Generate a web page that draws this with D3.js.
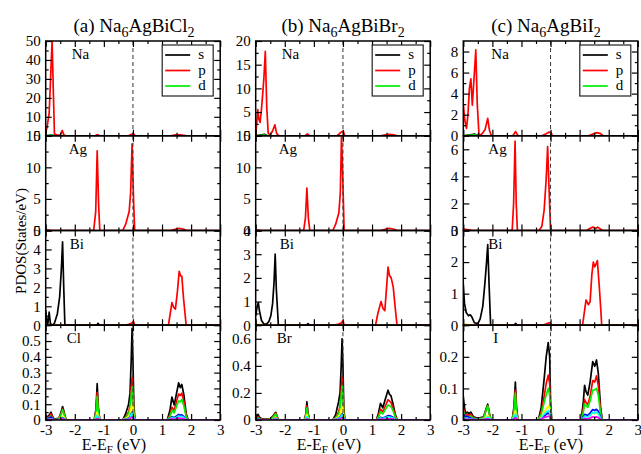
<!DOCTYPE html>
<html><head><meta charset="utf-8">
<script src="https://cdn.jsdelivr.net/npm/d3@7"></script>
<style>
body{margin:0;background:#fff}
svg{display:block}
text{font-family:"Liberation Serif","Times New Roman",serif}
</style>
</head><body>
<svg id="chart" width="641" height="454"></svg>
<script>
// ---------------- DATA ----------------
const xTickValues = [-3,-2,-1,0,1,2,3];
const xMinorValues = [-2.5,-1.5,-0.5,0.5,1.5,2.5];
const titleParts = [["(a) Na","6","AgBiCl","2"],["(b) Na","6","AgBiBr","2"],["(c) Na","6","AgBiI","2"]];
const colElements = [["Na","Ag","Bi","Cl"],["Na","Ag","Bi","Br"],["Na","Ag","Bi","I"]];
const legendLabels = ["s","p","d"];
const yMax = [[50,15,5,0.6],[20,15,4,0.7],[9,7,3,0.3]];
const yMajor = [
  [[0,10,20,30,40,50],[0,5,10,15],[0,1,2,3,4,5],[0,0.1,0.2,0.3,0.4,0.5]],
  [[0,5,10,15,20],[0,5,10,15],[0,1,2,3,4],[0,0.2,0.4,0.6]],
  [[0,2,4,6,8],[0,2,4,6],[0,1,2,3],[0,0.1,0.2]]
];
const yMinor = [
  [[5,15,25,35,45],[2.5,7.5,12.5],[0.5,1.5,2.5,3.5,4.5],[0.05,0.15,0.25,0.35,0.45,0.55]],
  [[2.5,7.5,12.5,17.5],[2.5,7.5,12.5],[0.5,1.5,2.5,3.5],[0.1,0.3,0.5]],
  [[1,3,5,7],[1,3,5],[0.5,1.5,2.5],[0.05,0.15,0.25]]
];

// cation PDOS curves: [E, PDOS]
const naA_s = [[-3,0],[-2.8,0.4],[-2.7,0],[3,0]];
const naA_p = [[-3,1],[-2.95,5],[-2.88,12],[-2.82,35],[-2.78,50],[-2.74,25],[-2.7,1],[-2.6,0.3],[-2.5,0.5],[-2.43,2.8],[-2.38,0.5],[-2.3,0],[-1.3,0],[-1.22,0.6],[-1.15,0],[-0.15,0],[-0.05,0.8],[0.02,1],[0.08,0],[1.3,0],[1.5,0.6],[1.7,0.4],[1.85,0],[3,0]];
const naA_d = [[-3,0],[-2.8,0.2],[-2.7,0],[3,0]];
const agA_p = [[-3,0.1],[-2.9,0.05],[-2.8,0],[-1.35,0],[-1.28,3],[-1.23,12.6],[-1.18,4],[-1.14,0],[-0.35,0],[-0.25,1],[-0.13,3],[-0.08,6],[-0.03,13.7],[0.02,5],[0.06,0],[1.3,0],[1.45,0.2],[1.6,0.35],[1.75,0.2],[1.85,0],[3,0]];
const biA_s = [[-3,0.8],[-2.96,0.2],[-2.93,0.05],[-2.88,0.7],[-2.84,0.1],[-2.78,0],[-2.7,0.1],[-2.6,0.6],[-2.52,1.5],[-2.46,3],[-2.42,4.4],[-2.38,2],[-2.34,0],[-1.25,0],[-1.2,0.1],[-1.15,0],[3,0]];
const biA_p = [[-3,0],[-0.3,0],[-0.15,0.05],[-0.05,0.1],[0.02,0.2],[0.06,0],[1.22,0],[1.28,0.6],[1.34,1.2],[1.4,0.95],[1.46,0.85],[1.53,1.8],[1.59,2.85],[1.64,2.6],[1.68,2.6],[1.74,1.4],[1.83,0],[3,0]];
const biA_d = [[-3,0.06],[-2.85,0.03],[-2.7,0],[3,0]];

const naB_s = [[-3,0],[-2.7,0.3],[-2.6,0],[3,0]];
const naB_p = [[-3,0],[-2.96,3],[-2.93,5.5],[-2.89,3.5],[-2.85,2.8],[-2.81,5],[-2.77,8],[-2.72,12],[-2.67,17.8],[-2.62,6],[-2.57,0.5],[-2.5,0.2],[-2.42,1],[-2.34,2.3],[-2.28,0.5],[-2.2,0],[-1.3,0],[-1.22,0.4],[-1.15,0],[-0.2,0],[-0.05,0.8],[0.01,1.0],[0.06,0],[1.3,0],[1.45,0.2],[1.6,0.3],[1.75,0.2],[1.85,0],[3,0]];
const naB_d = [[-3,0],[-2.7,0.15],[-2.6,0],[3,0]];
const agB_p = [[-3,0.1],[-2.9,0.05],[-2.8,0],[-1.35,0],[-1.29,2],[-1.24,6.7],[-1.19,2],[-1.14,0],[-0.35,0],[-0.25,1],[-0.14,2.8],[-0.09,6],[-0.05,15],[-0.01,9],[0.04,0],[1.3,0],[1.45,0.2],[1.6,0.35],[1.75,0.2],[1.85,0],[3,0]];
const biB_s = [[-3,0.4],[-2.95,0.8],[-2.91,0.95],[-2.87,0.6],[-2.8,0.2],[-2.72,0.05],[-2.63,0.05],[-2.55,0.15],[-2.48,0.4],[-2.42,0.9],[-2.37,1.8],[-2.33,3.0],[-2.29,1.5],[-2.22,0],[-1.25,0],[-1.2,0.07],[-1.15,0],[3,0]];
const biB_p = [[-3,0],[-0.3,0],[-0.15,0.05],[-0.05,0.1],[0.0,0.2],[0.04,0],[1.12,0],[1.2,0.5],[1.31,1.0],[1.38,0.7],[1.44,0.62],[1.5,1.6],[1.55,2.45],[1.6,2.1],[1.66,2.0],[1.73,1.6],[1.8,0.7],[1.86,0],[3,0]];
const biB_d = [[-3,0.05],[-2.85,0.03],[-2.7,0],[3,0]];

const naC_s = [[-3,0],[-2.6,0.15],[-2.5,0],[3,0]];
const naC_p = [[-3,3],[-2.95,1.5],[-2.89,0.7],[-2.84,2],[-2.79,4.5],[-2.74,5.4],[-2.69,2.9],[-2.63,5.5],[-2.57,8.15],[-2.52,3],[-2.46,0.1],[-2.38,0.1],[-2.25,0.6],[-2.16,1.65],[-2.1,0.5],[-2.03,0],[-1.3,0],[-1.2,0.4],[-1.12,0],[-0.3,0],[-0.15,0.2],[-0.05,0.35],[0.02,0.3],[0.06,0],[1.3,0],[1.45,0.15],[1.6,0.3],[1.72,0.2],[1.8,0],[3,0]];
const naC_d = [[-3,0],[-2.6,0.08],[-2.5,0],[3,0]];
const agC_p = [[-3,0.1],[-2.8,0.05],[-2.7,0],[-1.32,0],[-1.27,2],[-1.22,6.6],[-1.18,2],[-1.14,0],[-0.4,0],[-0.3,0.3],[-0.22,1.5],[-0.15,3.8],[-0.1,6.2],[-0.05,3],[0.0,0],[1.25,0],[1.35,0.15],[1.45,0.25],[1.55,0.15],[1.62,0.25],[1.72,0.1],[1.8,0],[3,0]];
const biC_s = [[-3,1.3],[-2.96,0.7],[-2.9,0.4],[-2.82,0.3],[-2.76,0.33],[-2.7,0.25],[-2.62,0.08],[-2.5,0.05],[-2.42,0.2],[-2.33,0.6],[-2.26,1.3],[-2.2,2.0],[-2.16,2.55],[-2.11,1.2],[-2.06,0],[-1.25,0],[-1.2,0.06],[-1.15,0],[3,0]];
const biC_p = [[-3,0],[-0.3,0],[-0.15,0.04],[-0.05,0.08],[0.0,0.06],[0.04,0],[1.1,0],[1.16,0.4],[1.22,0.8],[1.3,0.65],[1.36,0.75],[1.42,1.6],[1.47,2.0],[1.52,1.85],[1.57,1.95],[1.61,2.05],[1.67,1.3],[1.72,0.6],[1.76,0],[3,0]];
const biC_d = [[-3,0.04],[-2.85,0.02],[-2.7,0],[3,0]];

// anion PDOS: energies and several orbital components
const clX = [-3,-2.95,-2.88,-2.82,-2.76,-2.7,-2.55,-2.47,-2.42,-2.38,-2.33,-2.28,-1.33,-1.27,-1.23,-1.19,-1.14,-0.35,-0.25,-0.15,-0.1,-0.06,-0.03,0.0,0.03,0.07,1.18,1.27,1.34,1.42,1.5,1.57,1.63,1.68,1.75,1.83,1.9,3];
const clBlack = [0.01,0.02,0.03,0.05,0.02,0.005,0.01,0.05,0.085,0.06,0.02,0, 0,0.07,0.23,0.08,0, 0,0.04,0.1,0.17,0.38,0.58,0.38,0.1,0, 0,0.06,0.145,0.095,0.17,0.235,0.205,0.225,0.16,0.04,0,0];
const clRed = [0.005,0.015,0.02,0.04,0.015,0.003,0.008,0.04,0.07,0.05,0.015,0, 0,0.05,0.175,0.06,0, 0,0.02,0.05,0.09,0.2,0.27,0.2,0.05,0, 0,0.03,0.08,0.06,0.12,0.165,0.155,0.17,0.12,0.03,0,0];
const clGreen = [0.003,0.01,0.015,0.025,0.01,0.002,0.006,0.035,0.065,0.045,0.012,0, 0,0.04,0.15,0.05,0, 0,0.015,0.04,0.07,0.16,0.21,0.15,0.04,0, 0,0.02,0.06,0.045,0.09,0.12,0.115,0.13,0.09,0.02,0,0];
const clYellow = [0.002,0.005,0.008,0.01,0.005,0.001,0.003,0.015,0.025,0.02,0.005,0, 0,0.015,0.05,0.02,0, 0,0.01,0.02,0.04,0.08,0.1,0.07,0.02,0, 0,0.01,0.02,0.015,0.025,0.03,0.03,0.03,0.02,0.005,0,0];
const clBlue = [0.002,0.008,0.012,0.02,0.008,0.001,0.002,0.008,0.015,0.01,0.003,0, 0,0.008,0.025,0.01,0, 0,0.005,0.01,0.02,0.04,0.05,0.035,0.01,0, 0,0.008,0.02,0.015,0.025,0.035,0.03,0.032,0.022,0.005,0,0];
const clCyan = [0.001,0.003,0.005,0.008,0.004,0.001,0.002,0.006,0.012,0.008,0.002,0, 0,0.006,0.03,0.008,0, 0,0.004,0.008,0.015,0.035,0.045,0.03,0.008,0, 0,0.006,0.015,0.01,0.018,0.025,0.022,0.024,0.016,0.004,0,0];
const clMagenta = [0.001,0.002,0.003,0.005,0.002,0,0.001,0.004,0.008,0.005,0.001,0, 0,0.003,0.01,0.004,0, 0,0.002,0.004,0.008,0.015,0.02,0.014,0.004,0, 0,0.003,0.008,0.005,0.008,0.012,0.01,0.011,0.008,0.002,0,0];

const brX = [-3,-2.95,-2.92,-2.87,-2.8,-2.7,-2.5,-2.4,-2.34,-2.31,-2.27,-2.22,-1.33,-1.28,-1.24,-1.2,-1.15,-0.35,-0.25,-0.15,-0.1,-0.06,-0.03,0.0,0.03,0.07,1.15,1.22,1.29,1.37,1.45,1.55,1.6,1.65,1.72,1.8,1.87,3];
const brBlack = [0.01,0.025,0.042,0.02,0.01,0.005,0.01,0.03,0.05,0.057,0.03,0, 0,0.04,0.135,0.05,0, 0,0.04,0.135,0.2,0.4,0.6,0.4,0.08,0, 0,0.05,0.123,0.09,0.15,0.22,0.19,0.18,0.12,0.04,0,0];
const brRed = [0.005,0.015,0.025,0.012,0.006,0.003,0.008,0.025,0.045,0.05,0.025,0, 0,0.03,0.105,0.04,0, 0,0.02,0.06,0.1,0.22,0.32,0.22,0.04,0, 0,0.03,0.08,0.06,0.1,0.15,0.14,0.13,0.09,0.03,0,0];
const brGreen = [0.003,0.01,0.015,0.008,0.004,0.002,0.006,0.02,0.04,0.045,0.02,0, 0,0.025,0.09,0.035,0, 0,0.015,0.045,0.08,0.18,0.25,0.17,0.03,0, 0,0.02,0.06,0.045,0.075,0.11,0.105,0.1,0.07,0.02,0,0];
const brYellow = [0.002,0.005,0.008,0.004,0.002,0.001,0.003,0.008,0.015,0.018,0.008,0, 0,0.01,0.04,0.015,0, 0,0.008,0.025,0.04,0.08,0.1,0.07,0.015,0, 0,0.008,0.02,0.015,0.02,0.03,0.028,0.025,0.018,0.005,0,0];
const brBlue = [0.002,0.006,0.01,0.005,0.003,0.001,0.002,0.005,0.01,0.012,0.005,0, 0,0.006,0.02,0.008,0, 0,0.005,0.012,0.02,0.035,0.045,0.03,0.008,0, 0,0.008,0.02,0.015,0.022,0.032,0.03,0.028,0.02,0.005,0,0];
const brCyan = [0.001,0.003,0.005,0.003,0.002,0.001,0.002,0.004,0.008,0.01,0.004,0, 0,0.005,0.025,0.006,0, 0,0.004,0.01,0.016,0.03,0.04,0.025,0.006,0, 0,0.006,0.015,0.01,0.016,0.024,0.022,0.02,0.015,0.004,0,0];
const brMagenta = [0.001,0.002,0.003,0.002,0.001,0,0.001,0.002,0.004,0.005,0.002,0, 0,0.002,0.008,0.003,0, 0,0.002,0.005,0.008,0.014,0.018,0.012,0.003,0, 0,0.003,0.007,0.005,0.007,0.01,0.009,0.008,0.006,0.002,0,0];

const iX = [-3,-2.96,-2.92,-2.86,-2.8,-2.74,-2.65,-2.5,-2.3,-2.22,-2.16,-2.1,-2.05,-1.32,-1.26,-1.21,-1.17,-1.12,-0.42,-0.32,-0.22,-0.15,-0.08,-0.03,0.0,0.04,1.05,1.12,1.17,1.22,1.28,1.36,1.45,1.52,1.58,1.64,1.72,1.78,3];
const iBlack = [0.074,0.04,0.02,0.025,0.02,0.025,0.01,0.005,0.01,0.035,0.05,0.02,0, 0,0.04,0.12,0.04,0, 0,0.04,0.13,0.2,0.245,0.2,0.06,0, 0,0.05,0.11,0.09,0.079,0.12,0.185,0.17,0.19,0.15,0.04,0,0];
const iRed = [0.04,0.02,0.012,0.018,0.015,0.018,0.007,0.004,0.008,0.03,0.045,0.018,0, 0,0.03,0.095,0.03,0, 0,0.025,0.075,0.115,0.142,0.115,0.035,0, 0,0.03,0.065,0.055,0.048,0.075,0.125,0.12,0.14,0.11,0.03,0,0];
const iGreen = [0.03,0.015,0.008,0.012,0.01,0.012,0.005,0.003,0.007,0.03,0.045,0.018,0, 0,0.025,0.085,0.025,0, 0,0.018,0.055,0.08,0.1,0.08,0.025,0, 0,0.022,0.05,0.045,0.04,0.06,0.095,0.095,0.1,0.08,0.02,0,0];
const iYellow = [0.012,0.008,0.005,0.006,0.005,0.005,0.003,0.002,0.003,0.01,0.015,0.006,0, 0,0.01,0.03,0.01,0, 0,0.008,0.025,0.035,0.045,0.035,0.01,0, 0,0.006,0.015,0.012,0.01,0.015,0.022,0.02,0.022,0.018,0.005,0,0];
const iBlue = [0.02,0.012,0.01,0.012,0.008,0.006,0.003,0.001,0.002,0.005,0.008,0.003,0, 0,0.005,0.015,0.005,0, 0,0.005,0.012,0.018,0.022,0.018,0.005,0, 0,0.008,0.018,0.016,0.015,0.022,0.033,0.03,0.034,0.028,0.008,0,0];
const iCyan = [0.01,0.006,0.004,0.005,0.004,0.004,0.002,0.001,0.002,0.006,0.01,0.004,0, 0,0.008,0.02,0.006,0, 0,0.006,0.018,0.025,0.03,0.024,0.007,0, 0,0.005,0.012,0.01,0.01,0.015,0.024,0.022,0.025,0.02,0.005,0,0];
const iMagenta = [0.005,0.003,0.002,0.002,0.002,0.002,0.001,0,0.001,0.003,0.004,0.002,0, 0,0.003,0.008,0.003,0, 0,0.003,0.008,0.01,0.012,0.01,0.003,0, 0,0.002,0.005,0.004,0.004,0.006,0.01,0.009,0.01,0.008,0.002,0,0];

// ---------------- LAYOUT / STYLE ----------------
const C_S = "#000000", C_P = "#ff0000", C_D = "#00ee00";
const anionColors = ["#000000","#ff0000","#00ee00","#ffff00","#0000ff","#00ffff","#ff00ff"];
const zipXY = (xs, ys) => xs.map((x,i)=>[x, ys[i]]);

const panelSeries = [
  [
    [{d:naA_s,c:C_S},{d:naA_d,c:C_D},{d:naA_p,c:C_P}],
    [{d:agA_p,c:C_P}],
    [{d:biA_d,c:"#e0e000"},{d:biA_p,c:C_P},{d:biA_s,c:C_S}],
    [clBlack,clRed,clGreen,clYellow,clBlue,clCyan,clMagenta].map((ys,i)=>({d:zipXY(clX,ys),c:anionColors[i]}))
  ],
  [
    [{d:naB_s,c:C_S},{d:naB_d,c:C_D},{d:naB_p,c:C_P}],
    [{d:agB_p,c:C_P}],
    [{d:biB_d,c:"#e0e000"},{d:biB_p,c:C_P},{d:biB_s,c:C_S}],
    [brBlack,brRed,brGreen,brYellow,brBlue,brCyan,brMagenta].map((ys,i)=>({d:zipXY(brX,ys),c:anionColors[i]}))
  ],
  [
    [{d:naC_s,c:C_S},{d:naC_d,c:C_D},{d:naC_p,c:C_P}],
    [{d:agC_p,c:C_P}],
    [{d:biC_d,c:"#e0e000"},{d:biC_p,c:C_P},{d:biC_s,c:C_S}],
    [iBlack,iRed,iGreen,iYellow,iBlue,iCyan,iMagenta].map((ys,i)=>({d:zipXY(iX,ys),c:anionColors[i]}))
  ]
];

const colLeft = [45.7, 255.7, 463.3];
const colW = 174.5;
const rowTop = [41, 135.75, 230.5, 325.25];
const rowH = 94.75;
const labelDx = [[26,23,24,21],[26,23,24,21],[28,25,25,30]];
const titleCx = [134, 343, 546];
const xTitleCx = [114, 329, 551];

const svg = d3.select("#chart");
const FONT = '"Liberation Serif","Times New Roman",serif';
const fmt = d => String(d);

function styleAxis(g, size){
  g.select(".domain").remove();
  g.selectAll(".tick line").attr("stroke","#000").attr("stroke-width",1.2);
  g.attr("font-family",FONT).attr("font-size",size).selectAll("text").attr("fill","#000");
}

for (let c=0;c<3;c++){
  const L = colLeft[c];
  const x = d3.scaleLinear().domain([-3,3]).range([L, L+colW]);

  // title
  const tp = titleParts[c];
  const t = svg.append("text").attr("x",titleCx[c]).attr("y",32).attr("text-anchor","middle")
    .attr("font-size",19).attr("fill","#000");
  t.append("tspan").text(tp[0]);
  t.append("tspan").attr("font-size",14).attr("dy",5).text(tp[1]);
  t.append("tspan").attr("dy",-5).text(tp[2]);
  t.append("tspan").attr("font-size",14).attr("dy",5).text(tp[3]);

  for (let r=0;r<4;r++){
    const top = rowTop[r], bot = top + rowH;
    const y = d3.scaleLinear().domain([0, yMax[c][r]]).range([bot, top]);
    const id = `clip${c}${r}`;
    svg.append("clipPath").attr("id",id).append("rect")
      .attr("x",L).attr("y",top).attr("width",colW).attr("height",rowH);
    const pg = svg.append("g").attr("clip-path",`url(#${id})`);
    const line = d3.line().x(d=>x(d[0])).y(d=>y(d[1]));
    panelSeries[c][r].forEach(s=>{
      pg.append("path").attr("d",line(s.d)).attr("fill","none")
        .attr("stroke",s.c).attr("stroke-width",1.7).attr("stroke-linejoin","round");
    });

    // dashed Fermi line
    svg.append("line").attr("x1",x(0)).attr("x2",x(0)).attr("y1",top).attr("y2",bot)
      .attr("stroke","#333").attr("stroke-width",1).attr("stroke-dasharray","4,3");

    // axes (inward ticks)
    const gL = svg.append("g").attr("transform",`translate(${L},0)`)
      .call(d3.axisLeft(y).tickValues(yMajor[c][r]).tickSize(-6).tickPadding(5).tickFormat(fmt));
    styleAxis(gL,15);
    const gLm = svg.append("g").attr("transform",`translate(${L},0)`)
      .call(d3.axisLeft(y).tickValues(yMinor[c][r]).tickSize(-3).tickFormat(""));
    styleAxis(gLm,15);
    const gR = svg.append("g").attr("transform",`translate(${L+colW},0)`)
      .call(d3.axisRight(y).tickValues(yMajor[c][r]).tickSize(-6).tickFormat(""));
    styleAxis(gR,15);
    const gRm = svg.append("g").attr("transform",`translate(${L+colW},0)`)
      .call(d3.axisRight(y).tickValues(yMinor[c][r]).tickSize(-3).tickFormat(""));
    styleAxis(gRm,15);
    const gT = svg.append("g").attr("transform",`translate(0,${top})`)
      .call(d3.axisTop(x).tickValues(xTickValues).tickSize(-6).tickFormat(""));
    styleAxis(gT,15);
    const gTm = svg.append("g").attr("transform",`translate(0,${top})`)
      .call(d3.axisTop(x).tickValues(xMinorValues).tickSize(-3).tickFormat(""));
    styleAxis(gTm,15);
    const gB = svg.append("g").attr("transform",`translate(0,${bot})`)
      .call(d3.axisBottom(x).tickValues(xTickValues).tickSize(-6).tickPadding(4)
        .tickFormat(r===3 ? fmt : ""));
    styleAxis(gB,15);
    const gBm = svg.append("g").attr("transform",`translate(0,${bot})`)
      .call(d3.axisBottom(x).tickValues(xMinorValues).tickSize(-3).tickFormat(""));
    styleAxis(gBm,15);

    // frame
    svg.append("rect").attr("x",L).attr("y",top).attr("width",colW).attr("height",rowH)
      .attr("fill","none").attr("stroke","#000").attr("stroke-width",1.5);

    // element label
    svg.append("text").attr("x",L+labelDx[c][r]).attr("y",top+18).attr("font-size",15)
      .attr("fill","#000").text(colElements[c][r]);

    // legend in the first row
    if (r===0){
      const bx = L+colW-58, by = top+4;
      svg.append("rect").attr("x",bx).attr("y",by).attr("width",51).attr("height",51)
        .attr("fill","#fff").attr("stroke","#222").attr("stroke-width",1.2);
      const lc = [C_S,C_P,C_D];
      legendLabels.forEach((lab,i)=>{
        const ly = by + 10 + i*15.5;
        svg.append("line").attr("x1",bx+3).attr("x2",bx+28).attr("y1",ly).attr("y2",ly)
          .attr("stroke",lc[i]).attr("stroke-width",1.7);
        svg.append("text").attr("x",bx+36).attr("y",ly+4).attr("font-size",15)
          .attr("fill","#000").text(lab);
      });
    }
  }

  // x-axis title
  const xt = svg.append("text").attr("x",xTitleCx[c]).attr("y",450).attr("text-anchor","middle")
    .attr("font-size",16).attr("fill","#000");
  xt.append("tspan").text("E-E");
  xt.append("tspan").attr("font-size",11).attr("dy",3).text("F");
  xt.append("tspan").attr("dy",-3).text(" (eV)");
}

// y-axis title
svg.append("text").attr("transform","translate(26,241) rotate(-90)").attr("text-anchor","middle")
  .attr("font-size",15).attr("fill","#000").text("PDOS(States/eV)");
</script>
</body></html>
